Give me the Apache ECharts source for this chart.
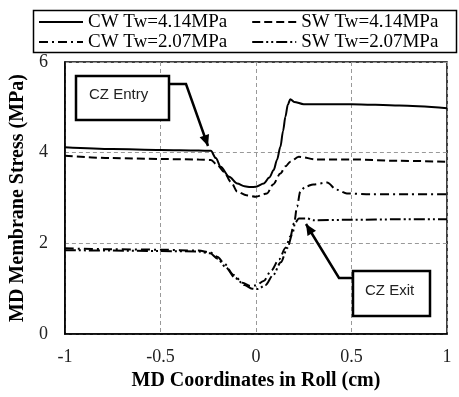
<!DOCTYPE html>
<html>
<head>
<meta charset="utf-8">
<script src="https://cdn.jsdelivr.net/npm/echarts@6/dist/echarts.min.js"></script>
<style>
  html, body { margin: 0; padding: 0; background: #fff; }
  #chart { width: 459px; height: 397px; }
</style>
</head>
<body>
<div id="chart"></div>
<script>
// series names
var seriesNames = ["CW Tw=4.14MPa", "SW Tw=4.14MPa", "CW Tw=2.07MPa", "SW Tw=2.07MPa"];

// CW Tw=4.14MPa (solid)
var cwHighX = [-1, -0.75, -0.5, -0.3, -0.236, -0.21, -0.185, -0.14, -0.098, -0.06, -0.029, 0.0, 0.041, 0.07, 0.093, 0.11, 0.128, 0.142, 0.154, 0.167, 0.18, 0.2, 0.25, 0.5, 0.75, 1];
var cwHighY = [4.12, 4.08, 4.06, 4.05, 4.04, 3.88, 3.69, 3.47, 3.32, 3.26, 3.24, 3.25, 3.32, 3.45, 3.62, 3.84, 4.13, 4.48, 4.79, 5.06, 5.18, 5.12, 5.07, 5.07, 5.04, 4.98];

// SW Tw=4.14MPa (dashed)
var swHighX = [-1, -0.75, -0.5, -0.3, -0.236, -0.2, -0.168, -0.13, -0.098, -0.05, 0, 0.058, 0.09, 0.128, 0.155, 0.18, 0.224, 0.32, 0.5, 0.75, 1];
var swHighY = [3.93, 3.88, 3.86, 3.85, 3.84, 3.72, 3.58, 3.35, 3.14, 3.06, 3.03, 3.10, 3.30, 3.54, 3.70, 3.80, 3.91, 3.85, 3.85, 3.82, 3.80];

// CW Tw=2.07MPa (dash-dot)
var cwLowX = [-1, -0.75, -0.5, -0.3, -0.24, -0.2, -0.168, -0.116, -0.07, -0.03, 0, 0.04, 0.08, 0.12, 0.155, 0.18, 0.2, 0.215, 0.232, 0.258, 0.3, 0.372, 0.424, 0.476, 0.6, 0.8, 1];
var cwLowY = [1.89, 1.87, 1.86, 1.84, 1.80, 1.70, 1.56, 1.30, 1.13, 1.06, 1.07, 1.17, 1.40, 1.64, 1.90, 2.15, 2.45, 2.81, 3.14, 3.25, 3.30, 3.34, 3.18, 3.10, 3.08, 3.08, 3.08];

// SW Tw=2.07MPa (dash-dot-dot)
var swLowX = [-1, -0.75, -0.5, -0.3, -0.24, -0.2, -0.16, -0.11, -0.06, -0.02, 0.01, 0.05, 0.09, 0.13, 0.165, 0.19, 0.206, 0.224, 0.267, 0.3, 0.5, 0.75, 1];
var swLowY = [1.85, 1.84, 1.83, 1.82, 1.78, 1.66, 1.48, 1.24, 1.08, 1.00, 0.99, 1.08, 1.30, 1.58, 1.90, 2.20, 2.46, 2.55, 2.55, 2.51, 2.52, 2.53, 2.53];

function pairs(xs, ys) {
  return xs.map(function (x, i) { return [x, ys[i]]; });
}

function arrowHead(from, to, len, half) {
  var dx = to[0] - from[0], dy = to[1] - from[1];
  var d = Math.sqrt(dx * dx + dy * dy);
  dx /= d; dy /= d;
  var bx = to[0] - dx * len, by = to[1] - dy * len;
  return [to, [bx - dy * half, by + dx * half], [bx + dy * half, by - dx * half]];
}

var chart = echarts.init(document.getElementById("chart"));

var serif = "'Liberation Serif', 'Times New Roman', serif";
var sans = "'Liberation Sans', Arial, sans-serif";

var lineStyles = [
  { type: "solid" },
  { type: [8, 4] },
  { type: [9, 4, 2, 4] },
  { type: [11, 3, 2, 3, 2, 3] }
];
var seriesData = [
  pairs(cwHighX, cwHighY),
  pairs(swHighX, swHighY),
  pairs(cwLowX, cwLowY),
  pairs(swLowX, swLowY)
];

var legendBase = {
  left: 38,
  padding: 0,
  itemWidth: 44,
  itemHeight: 12,
  itemGap: 24,
  itemStyle: { opacity: 0 },
  textStyle: { fontFamily: serif, fontSize: 19, color: "#000", lineHeight: 20 }
};

var entryFrom = [186, 84], entryTo = [208, 146];
var exitFrom = [339, 278], exitTo = [306, 224];

var option = {
  animation: false,
  backgroundColor: "#fff",
  legend: [
    Object.assign({}, legendBase, { top: 12, data: [seriesNames[0], seriesNames[1]] }),
    Object.assign({}, legendBase, { top: 32, data: [seriesNames[2], seriesNames[3]] })
  ],
  grid: {
    left: 64,
    right: 12,
    top: 62,
    bottom: 63,
    show: true,
    borderColor: "#000",
    borderWidth: 1.5
  },
  xAxis: {
    type: "value",
    min: -1,
    max: 1,
    interval: 0.5,
    name: "MD Coordinates in Roll (cm)",
    nameLocation: "middle",
    nameGap: 33,
    nameTextStyle: { fontFamily: serif, fontSize: 20, fontWeight: "bold", color: "#000" },
    axisLine: { onZero: false, lineStyle: { color: "#000", width: 1.5 } },
    axisTick: { show: false },
    axisLabel: { fontFamily: serif, fontSize: 18, color: "#222", margin: 14 },
    splitLine: { show: true, lineStyle: { color: "#999", type: [4, 3], width: 1 } }
  },
  yAxis: {
    type: "value",
    min: 0,
    max: 6,
    interval: 2,
    name: "MD Membrane Stress (MPa)",
    nameLocation: "middle",
    nameGap: 30,
    nameTextStyle: { fontFamily: serif, fontSize: 20, fontWeight: "bold", color: "#000" },
    axisLine: { show: true, onZero: false, lineStyle: { color: "#000", width: 1.5 } },
    axisTick: { show: false },
    axisLabel: { fontFamily: serif, fontSize: 18, color: "#222", margin: 17 },
    splitLine: { show: true, lineStyle: { color: "#999", type: [4, 3], width: 1 } }
  },
  series: seriesNames.map(function (name, i) {
    return {
      name: name,
      type: "line",
      data: seriesData[i],
      symbol: "none",
      showSymbol: false,
      smooth: 0.3,
      smoothMonotone: "x",
      lineStyle: Object.assign({ color: "#000", width: 2 }, lineStyles[i]),
      itemStyle: { color: "#000" },
      z: 3
    };
  }),
  graphic: [
    // legend frame
    { type: "rect", shape: { x: 33.5, y: 10.5, width: 423, height: 42 }, style: { fill: null, stroke: "#000", lineWidth: 1.5 }, z: 10 },
    // CZ Entry callout
    { type: "polyline", shape: { points: [[170, 84], entryFrom, entryTo] }, style: { stroke: "#000", lineWidth: 2.5, fill: null }, z: 10 },
    { type: "polygon", shape: { points: arrowHead(entryFrom, entryTo, 11, 5) }, style: { fill: "#000" }, z: 10 },
    { type: "rect", shape: { x: 76, y: 76, width: 93, height: 44 }, style: { fill: "#fff", stroke: "#000", lineWidth: 2.5 }, z: 10 },
    { type: "text", style: { text: "CZ Entry", x: 89, y: 95, font: "15px " + sans, fill: "#222", textVerticalAlign: "middle" }, z: 11 },
    // CZ Exit callout
    { type: "polyline", shape: { points: [[353, 278], exitFrom, exitTo] }, style: { stroke: "#000", lineWidth: 2.5, fill: null }, z: 10 },
    { type: "polygon", shape: { points: arrowHead(exitFrom, exitTo, 11, 5) }, style: { fill: "#000" }, z: 10 },
    { type: "rect", shape: { x: 353, y: 271, width: 77, height: 45 }, style: { fill: "#fff", stroke: "#000", lineWidth: 2.5 }, z: 10 },
    { type: "text", style: { text: "CZ Exit", x: 365, y: 291, font: "15px " + sans, fill: "#222", textVerticalAlign: "middle" }, z: 11 }
  ]
};

chart.setOption(option);
</script>
</body>
</html>
